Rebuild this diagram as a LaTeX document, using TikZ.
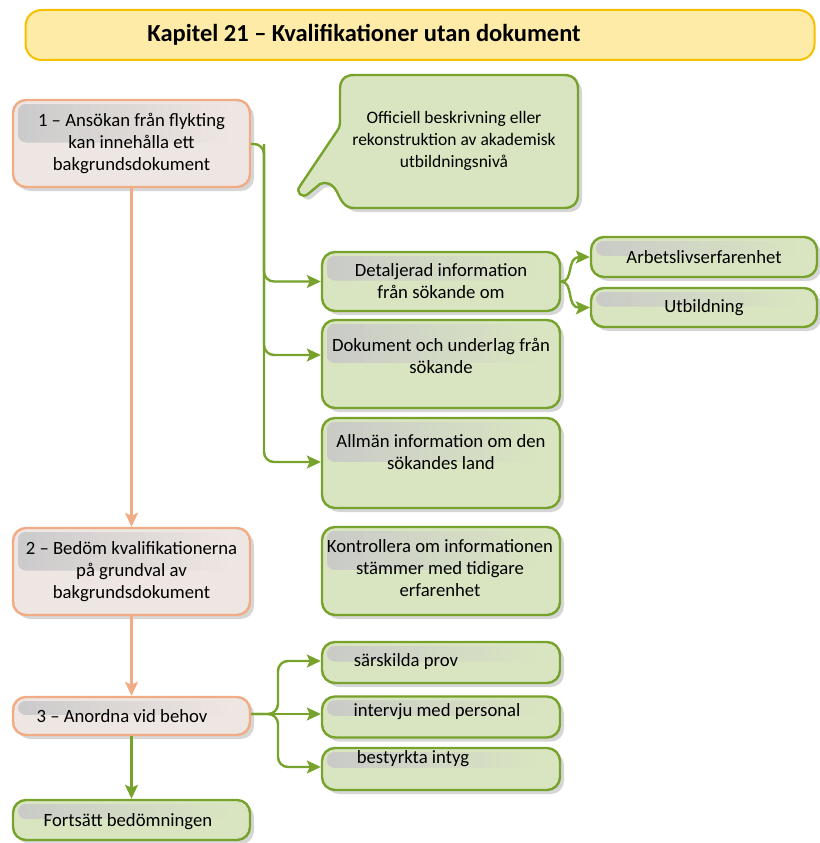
\documentclass[tikz,border=0pt]{standalone}
\usepackage{fontspec}
\setmainfont{Carlito}
\usetikzlibrary{arrows.meta,shadows,calc}

\definecolor{titlefill}{HTML}{FFEBA8}
\definecolor{titleline}{HTML}{F6C000}
\definecolor{peachline}{HTML}{F2AC85}
\definecolor{peachfill}{HTML}{EEE6E2}
\definecolor{leafline}{HTML}{77A22C}
\definecolor{leaffill}{HTML}{D9E5C1}
\definecolor{sheen}{HTML}{C8C8C8}

\begin{document}
\begin{tikzpicture}[x=1pt,y=-1pt,
  every node/.style={inner sep=0pt, align=center},
  label16/.style={font=\fontsize{18.7}{22}\selectfont},
  boxbase/.style={rounded corners=13pt, line width=2.4pt,
    drop shadow={opacity=0.32, shadow xshift=4pt, shadow yshift=-4pt}},
  peachbox/.style={boxbase, draw=peachline, fill=peachfill},
  leafbox/.style={boxbase, draw=leafline, fill=leaffill},
  leafwire/.style={draw=leafline, line width=2.4pt, rounded corners=10pt},
  leafarrow/.style={leafwire, -{Stealth[length=14pt, width=13pt, inset=3pt]}},
  peacharrow/.style={draw=peachline, line width=2.4pt,
    -{Stealth[length=14pt, width=13pt, inset=3pt]}},
]
\useasboundingbox (0,0) rectangle (819,843);

% heading banner
\node[draw=titleline, fill=titlefill, line width=2pt, rounded corners=16pt,
      minimum width=789pt, minimum height=50pt] (banner) at (420,35) {};
\node[font=\fontsize{24.5}{28}\selectfont\bfseries] (heading) at (364,35)
  {Kapitel 21 – Kvalifikationer utan dokument};

% boxes (text is set afterwards, on top of the sheen)
\node[peachbox, minimum width=237pt, minimum height=87pt] (step1) at (131.5,143.5) {};
\node[peachbox, minimum width=237pt, minimum height=87pt] (step2) at (131.5,571.5) {};
\node[peachbox, minimum width=237pt, minimum height=38pt] (step3) at (131.5,716) {};
\node[leafbox, minimum width=237pt, minimum height=40pt] (cont) at (131.5,820) {};
\node[leafbox, minimum width=238pt, minimum height=59pt] (detail) at (441,281.5) {};
\node[leafbox, minimum width=226pt, minimum height=40pt] (work) at (704,257) {};
\node[leafbox, minimum width=226pt, minimum height=39pt] (edu) at (704,307.5) {};
\node[leafbox, minimum width=238pt, minimum height=88pt] (docs) at (441,364) {};
\node[leafbox, minimum width=238pt, minimum height=90pt] (country) at (441,463) {};
\node[leafbox, minimum width=238pt, minimum height=88pt] (check) at (441,571) {};
\node[leafbox, minimum width=238pt, minimum height=41pt] (exam) at (441,662.5) {};
\node[leafbox, minimum width=238pt, minimum height=41pt] (talk) at (441,717) {};
\node[leafbox, minimum width=238pt, minimum height=42pt] (cert) at (441,769) {};

% glossy sheen in the upper half of each box, fading from left to right
\foreach \bx/\fc in {step1/peachfill, step2/peachfill, step3/peachfill,
                     cont/leaffill, detail/leaffill, work/leaffill, edu/leaffill,
                     docs/leaffill, country/leaffill, check/leaffill,
                     exam/leaffill, talk/leaffill, cert/leaffill}{
  \begin{scope}
    \clip[rounded corners=8pt] ($(\bx.north west)+(6,5)$) rectangle ($(\bx.east)+(-14,-1)$);
    \foreach \k in {0,...,23}{
      \pgfmathtruncatemacro\pct{90-90*\k/23}
      \fill[color=sheen!\pct!\fc]
        let \p1=($(\bx.north west)+(6,5)$), \p2=($(\bx.east)+(-14,-1)$) in
        ({\x1+\k*(\x2-\x1)/24}, \y1) rectangle ({\x1+(\k+1)*(\x2-\x1)/24+0.6pt}, \y2);
    }
  \end{scope}
}

% speech bubble with its pointer
\path[leafbox, sharp corners]
  (354,75) -- (564,75) .. controls (573,75) and (578,80) .. (578,89)
  -- (578,194) .. controls (578,203) and (573,208) .. (564,208)
  -- (354,208) .. controls (344,208) and (341,200) .. (337,192)
  .. controls (333,184) and (326,181) .. (320,184)
  -- (308,194) .. controls (302,199) and (295,192) .. (300,186)
  -- (337,131) .. controls (340,127) and (340,124) .. (340,119)
  -- (340,89) .. controls (340,80) and (345,75) .. (354,75) -- cycle;
\node[font=\fontsize{17.5}{22}\selectfont] (bubble) at (454,141)
  {Officiell beskrivning eller\\rekonstruktion av akademisk\\utbildningsnivå};

% box texts
\node[label16] (step1txt) at (step1) {1 – Ansökan från flykting\\kan innehålla ett\\bakgrundsdokument};
\node[label16] (step2txt) at (step2) {2 – Bedöm kvalifikationerna\\på grundval av\\bakgrundsdokument};
\node[label16] (step3txt) at (122,716) {3 – Anordna vid behov};
\node[label16] (conttxt) at (128,822) {Fortsätt bedömningen};
\node[label16] (detailtxt) at (detail) {Detaljerad information\\från sökande om};
\node[label16] (worktxt) at (work) {Arbetslivserfarenhet};
\node[label16] (edutxt) at (edu) {Utbildning};
\node[label16] (docstxt) at (441,356) {Dokument och underlag från\\sökande};
\node[label16] (countrytxt) at (441,452) {Allmän information om den\\sökandes land};
\node[label16] (checktxt) at (440,568) {Kontrollera om informationen\\stämmer med tidigare\\erfarenhet};
\node[label16] (examtxt) at (406,662) {särskilda prov};
\node[label16] (talktxt) at (437,712) {intervju med personal};
\node[label16] (certtxt) at (413,759) {bestyrkta intyg};

% connectors from step 1
\coordinate (trunk) at (264,144);
\draw[leafarrow] (step1.east |- trunk) -- (trunk) |- (country.west |- 0,462);
\draw[leafarrow] (trunk) |- (detail.west);
\draw[leafarrow] (trunk) |- (docs.west |- 0,355);

% split to the two detail items
\draw[leafarrow, sharp corners] (detail.east) .. controls (574,282) and (566,257) .. (work.west);
\draw[leafarrow, sharp corners] (detail.east) .. controls (574,282) and (566,308) .. (edu.west);

% main flow
\draw[peacharrow] (step1.south) -- (step2.north);
\draw[peacharrow] (step2.south) -- (step3.north);
\draw[leafarrow] (step3.south) -- (cont.north);

% branches from step 3
\coordinate (fork) at (278,714);
\draw[leafarrow] (step3.east |- fork) -- (fork) |- (exam.west |- 0,661);
\draw[leafarrow] (step3.east |- fork) -- (talk.west |- fork);
\draw[leafarrow] (step3.east |- fork) -- (fork) |- (cert.west |- 0,767);
\end{tikzpicture}
\end{document}
